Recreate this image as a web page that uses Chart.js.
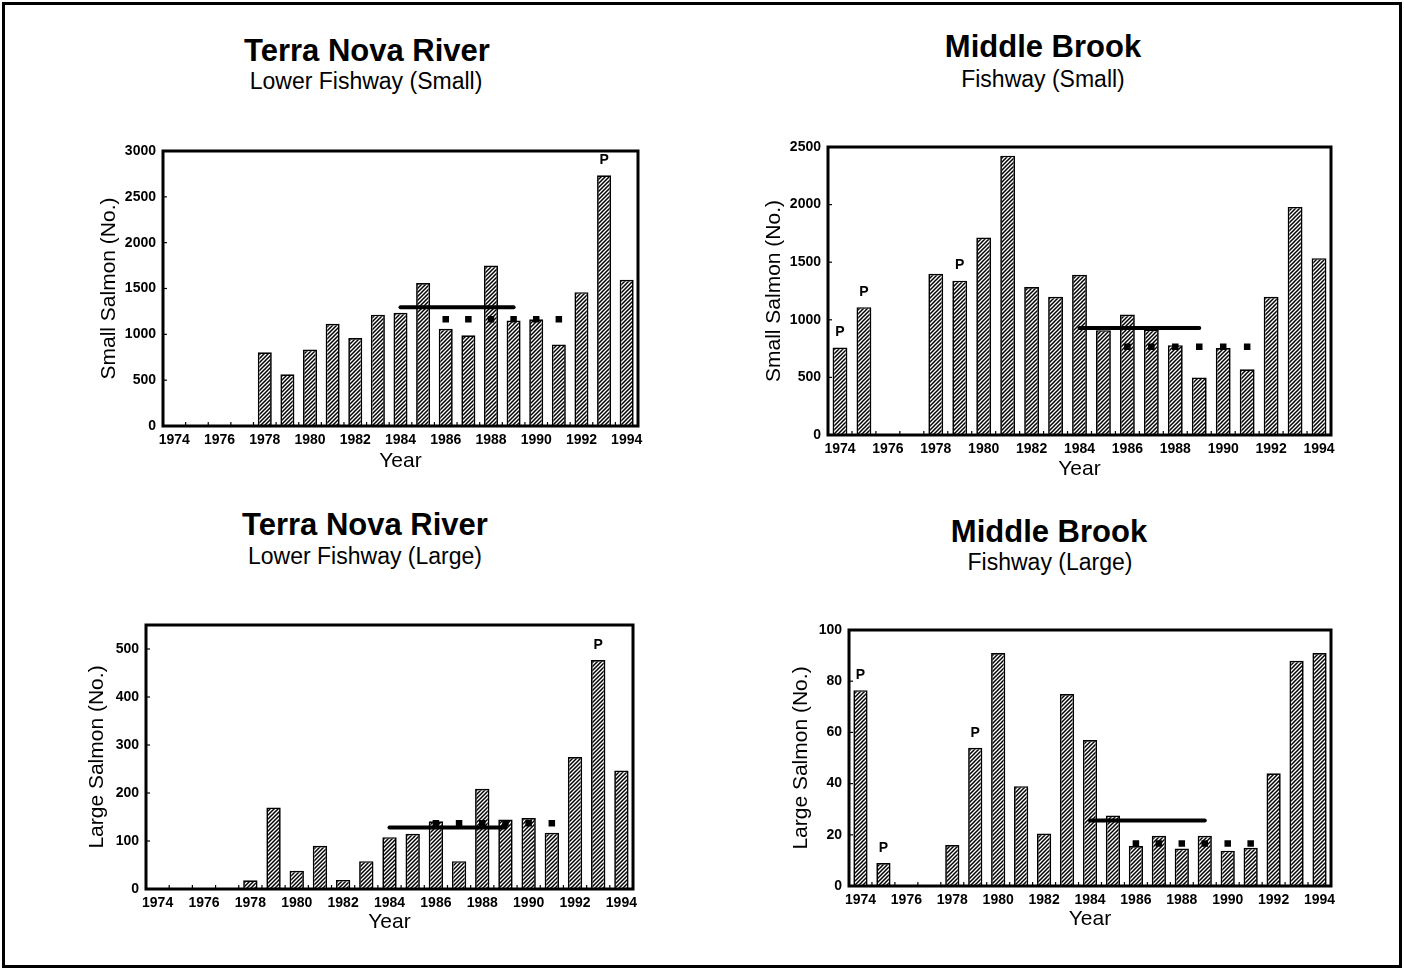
<!DOCTYPE html>
<html>
<head>
<meta charset="utf-8">
<title>Salmon counts at fishways, 1974-1994</title>
<script src="https://cdn.jsdelivr.net/npm/chart.js@4.4.1/dist/chart.umd.min.js"></script>
<style>
  html, body { margin: 0; padding: 0; background: #fff; }
  body { width: 1404px; height: 971px; position: relative; overflow: hidden;
         font-family: "Liberation Sans", Arial, Helvetica, sans-serif; color: #000; }
  .frame { position: absolute; left: 2px; top: 2px; width: 1400px; height: 966px;
           border: 3px solid #000; box-sizing: border-box; }
  .title, .sub { position: absolute; transform: translate(-50%, -50%); white-space: nowrap; line-height: 1; }
  .title { font-weight: bold; font-size: 31px; }
  .sub { font-size: 23px; }
  canvas { position: absolute; }
</style>
</head>
<body>
<div class="frame"></div>

<div class="title" style="left:367px;top:50px">Terra Nova River</div>
<div class="sub"   style="left:366px;top:81px">Lower Fishway (Small)</div>
<div class="title" style="left:1043px;top:46px">Middle Brook</div>
<div class="sub"   style="left:1043px;top:79px">Fishway (Small)</div>
<div class="title" style="left:365px;top:524px">Terra Nova River</div>
<div class="sub"   style="left:365px;top:556px">Lower Fishway (Large)</div>
<div class="title" style="left:1049px;top:531px">Middle Brook</div>
<div class="sub"   style="left:1050px;top:562px">Fishway (Large)</div>

<canvas id="tnSmallChart"></canvas>
<canvas id="mbSmallChart"></canvas>
<canvas id="tnLargeChart"></canvas>
<canvas id="mbLargeChart"></canvas>

<script>
// ---- Data -------------------------------------------------------------
const years = [1974, 1975, 1976, 1977, 1978, 1979, 1980, 1981, 1982, 1983, 1984,
               1985, 1986, 1987, 1988, 1989, 1990, 1991, 1992, 1993, 1994];
const yearLabels = years.map(String);
// only every second year carries a tick label
const shownYearLabels = ['1974', '1976', '1978', '1980', '1982', '1984', '1986',
                         '1988', '1990', '1992', '1994'];

// Terra Nova River, lower fishway - small salmon
const tnSmall = [null, null, null, null, 805, 565, 835, 1115, 960, 1215, 1235,
                 1560, 1060, 990, 1750, 1150, 1165, 890, 1460, 2735, 1595];
const tnSmallMean8489 = 1295;
const tnSmallMean8691 = 1165;
const tnSmallPartial = [1993];

// Middle Brook fishway - small salmon
const mbSmall = [760, 1110, null, null, 1400, 1340, 1715, 2425, 1285, 1200, 1390,
                 910, 1045, 915, 780, 500, 755, 570, 1200, 1980, 1535];
const mbSmallMean8489 = 928;
const mbSmallMean8691 = 765;
const mbSmallPartial = [1974, 1975, 1979];

// Terra Nova River, lower fishway - large salmon
const tnLarge = [null, null, null, null, 18, 170, 38, 90, 19, 58, 108,
                 115, 141, 58, 209, 145, 148, 117, 275, 477, 247];
const tnLargeMean8489 = 128;
const tnLargeMean8691 = 137;
const tnLargePartial = [1993];

// Middle Brook fishway - large salmon
const mbLarge = [76.5, 9, null, null, 16, 54, 91, 39, 20.5, 75, 57,
                 27.5, 15.6, 19.6, 14.6, 19.6, 13.8, 14.9, 44, 88, 91];
const mbLargeMean8489 = 25.6;
const mbLargeMean8691 = 16.6;
const mbLargePartial = [1974, 1975, 1979];

// a mean value held over a run of years (null elsewhere)
function meanOver(from, to, value) {
  return years.map(y => (y >= from && y <= to) ? value : null);
}

// ---- Styling helpers ----------------------------------------------------
const FONT = '"Liberation Sans", Arial, Helvetica, sans-serif';

function hatchPattern(ctx) {
  const c = document.createElement('canvas');
  c.width = 4; c.height = 4;
  const g = c.getContext('2d');
  g.fillStyle = '#fff';
  g.fillRect(0, 0, 4, 4);
  g.strokeStyle = '#000';
  g.lineWidth = 1.5;
  g.beginPath();
  g.moveTo(-1, 5); g.lineTo(5, -1);
  g.moveTo(-1, 1); g.lineTo(1, -1);
  g.moveTo(3, 5);  g.lineTo(5, 3);
  g.stroke();
  return ctx.createPattern(c, 'repeat');
}

// heavy box round the plot with short inward tick marks
const plotFrame = {
  id: 'plotFrame',
  afterDatasetsDraw(chart) {
    const { ctx, chartArea: a, scales: { x, y } } = chart;
    ctx.save();
    ctx.strokeStyle = '#000';
    ctx.lineWidth = 1.2;
    y.ticks.forEach(t => {
      const py = y.getPixelForValue(t.value);
      ctx.beginPath(); ctx.moveTo(a.left, py); ctx.lineTo(a.left + 4, py); ctx.stroke();
    });
    for (let i = 1; i < x.ticks.length; i++) {
      const px = (x.getPixelForTick(i - 1) + x.getPixelForTick(i)) / 2;
      ctx.beginPath(); ctx.moveTo(px, a.bottom); ctx.lineTo(px, a.bottom - 4); ctx.stroke();
    }
    ctx.lineWidth = 3;
    ctx.strokeRect(a.left, a.top, a.right - a.left, a.bottom - a.top);
    ctx.restore();
  }
};

// "P" (partial count) flags above selected bars
const partialFlags = {
  id: 'partialFlags',
  afterDatasetsDraw(chart, args, opts) {
    const meta = chart.getDatasetMeta(opts.datasetIndex);
    const ctx = chart.ctx;
    ctx.save();
    ctx.fillStyle = '#000';
    ctx.font = 'bold 14px ' + FONT;
    ctx.textAlign = 'center';
    ctx.textBaseline = 'middle';
    (opts.years || []).forEach(yr => {
      const el = meta.data[years.indexOf(yr)];
      if (el) ctx.fillText('P', el.x, el.y - 15);
    });
    ctx.restore();
  }
};

// ---- Panels -------------------------------------------------------------
// box: canvas rect on the page; plot: wanted plot area on the page
const panels = [
  { id: 'tnSmallChart', box: [60, 130, 600, 350], plot: [163, 151, 638, 426],
    yTitleX: 109, xTitleY: 461, yTitle: 'Small Salmon (No.)',
    counts: tnSmall, pre: meanOver(1984, 1989, tnSmallMean8489), post: meanOver(1986, 1991, tnSmallMean8691),
    partial: tnSmallPartial, yMax: 3000, yStep: 500 },
  { id: 'mbSmallChart', box: [720, 120, 640, 370], plot: [828, 147, 1331, 435],
    yTitleX: 774, xTitleY: 469, yTitle: 'Small Salmon (No.)',
    counts: mbSmall, pre: meanOver(1984, 1989, mbSmallMean8489), post: meanOver(1986, 1991, mbSmallMean8691),
    partial: mbSmallPartial, yMax: 2500, yStep: 500 },
  { id: 'tnLargeChart', box: [40, 595, 620, 350], plot: [146, 625, 633, 889],
    yTitleX: 97, xTitleY: 922, yTitle: 'Large Salmon (No.)',
    counts: tnLarge, pre: meanOver(1984, 1989, tnLargeMean8489), post: meanOver(1986, 1991, tnLargeMean8691),
    partial: tnLargePartial, yMax: 550, yStep: 100 },
  { id: 'mbLargeChart', box: [740, 600, 620, 350], plot: [849, 630, 1331, 886],
    yTitleX: 801, xTitleY: 919, yTitle: 'Large Salmon (No.)',
    counts: mbLarge, pre: meanOver(1984, 1989, mbLargeMean8489), post: meanOver(1986, 1991, mbLargeMean8691),
    partial: mbLargePartial, yMax: 100, yStep: 20 }
];

const TITLE_SIZE = 21;
const TITLE_HALF = TITLE_SIZE * 1.2 / 2;
const TICK_FONT = { family: FONT, size: 14, weight: 'bold' };
const AXIS_TITLE_FONT = { family: FONT, size: TITLE_SIZE, weight: 'normal' };

panels.forEach(p => {
  const [bx, by, bw, bh] = p.box;
  const [pl, pt, pr, pb] = p.plot;
  const canvas = document.getElementById(p.id);
  canvas.style.left = bx + 'px';
  canvas.style.top = by + 'px';
  canvas.width = bw;
  canvas.height = bh;

  // place the plot area exactly
  const padLeft = (p.yTitleX - bx) - TITLE_HALF;
  const yWidth = (pl - bx) - padLeft;
  const padBottom = bh - ((p.xTitleY - by) + TITLE_HALF);
  const xHeight = (bh - padBottom) - (pb - by);
  const padTop = pt - by;
  const padRight = bw - (pr - bx);

  const ctx = canvas.getContext('2d');

  new Chart(ctx, {
    type: 'bar',
    data: {
      labels: yearLabels,
      datasets: [
        { type: 'line', data: p.pre, borderColor: '#000', borderWidth: 4,
          borderCapStyle: 'round', pointRadius: 0, pointHoverRadius: 0, order: 0 },
        { type: 'line', data: p.post, showLine: false, pointStyle: 'rect',
          pointRadius: 4.6, pointBackgroundColor: '#000', pointBorderColor: '#000',
          pointBorderWidth: 0, order: 0 },
        { type: 'bar', data: p.counts, backgroundColor: hatchPattern(ctx),
          borderColor: '#000', borderWidth: 1.7, barPercentage: 0.62,
          categoryPercentage: 1, order: 1 }
      ]
    },
    options: {
      responsive: false,
      animation: false,
      devicePixelRatio: 1,
      events: [],
      layout: { padding: { left: padLeft, right: padRight, top: padTop, bottom: padBottom } },
      plugins: {
        legend: { display: false },
        tooltip: { enabled: false },
        partialFlags: { datasetIndex: 2, years: p.partial }
      },
      scales: {
        x: {
          grid: { display: false, drawTicks: false },
          border: { display: false },
          ticks: {
            autoSkip: false, maxRotation: 0, minRotation: 0, padding: 6,
            color: '#000', font: TICK_FONT,
            callback: (v, i) => shownYearLabels.includes(yearLabels[i]) ? yearLabels[i] : ''
          },
          title: { display: true, text: 'Year', color: '#000', padding: 0, font: AXIS_TITLE_FONT },
          afterFit: s => { s.height = xHeight; s.paddingLeft = 0; s.paddingRight = 0; }
        },
        y: {
          min: 0, max: p.yMax,
          grid: { display: false, drawTicks: false },
          border: { display: false },
          ticks: { stepSize: p.yStep, padding: 7, color: '#000', font: TICK_FONT,
                   callback: v => String(v) },
          afterBuildTicks: s => { s.ticks = s.ticks.filter(t => t.value % p.yStep === 0); },
          title: { display: true, text: p.yTitle, color: '#000', padding: 0, font: AXIS_TITLE_FONT },
          afterFit: s => { s.width = yWidth; s.paddingTop = 0; s.paddingBottom = 0; }
        }
      }
    },
    plugins: [plotFrame, partialFlags]
  });
});
</script>
</body>
</html>
